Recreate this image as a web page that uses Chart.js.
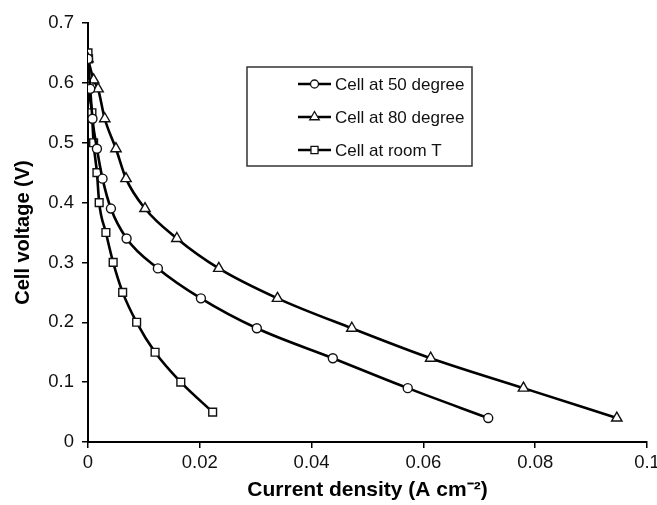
<!DOCTYPE html>
<html>
<head>
<meta charset="utf-8">
<script src="https://cdn.jsdelivr.net/npm/chart.js@4/dist/chart.umd.min.js"></script>
<style>
  html, body { margin: 0; padding: 0; background: #fff; }
  #wrap { width: 657px; height: 505px; position: relative; }
</style>
</head>
<body>
<div id="wrap"><canvas id="grafico-polarizacion"></canvas></div>
<script>
// Series (densidad de corriente en A cm-2, voltaje en V)
const room_x = [0, 0.0001, 0.0002, 0.0007, 0.001, 0.0016, 0.002, 0.0032, 0.0045, 0.0062, 0.0087, 0.012, 0.0166, 0.0223];
const room_y = [0.65, 0.64, 0.60, 0.55, 0.50, 0.45, 0.40, 0.35, 0.30, 0.25, 0.20, 0.15, 0.10, 0.05];

const deg50_x = [0, 0.0004, 0.0008, 0.0016, 0.0026, 0.0041, 0.0069, 0.0125, 0.0202, 0.0302, 0.0438, 0.0572, 0.0716];
const deg50_y = [0.64, 0.59, 0.54, 0.49, 0.44, 0.39, 0.34, 0.29, 0.24, 0.19, 0.14, 0.09, 0.04];

const deg80_x = [0, 0.001, 0.0018, 0.003, 0.005, 0.0068, 0.0102, 0.0159, 0.0234, 0.0339, 0.0472, 0.0613, 0.0779, 0.0946];
const deg80_y = [0.64, 0.605, 0.59, 0.54, 0.49, 0.44, 0.39, 0.34, 0.29, 0.24, 0.19, 0.14, 0.09, 0.04];

const series_labels = ['Cell at 50 degree', 'Cell at 80 degree', 'Cell at room T'];
const series_markers = ['circle', 'triangle', 'rect'];

const x_ticks = [0, 0.02, 0.04, 0.06, 0.08, 0.1];
const y_ticks = [0, 0.1, 0.2, 0.3, 0.4, 0.5, 0.6, 0.7];

const FUENTE = '"Liberation Sans", Arial, sans-serif';

function puntos(xs, ys) {
  return xs.map((x, i) => ({ x: x, y: ys[i] }));
}

function formatear(v) {
  return String(Number(v.toFixed(2)));
}

function radioMarcador(marker) {
  if (marker === 'triangle') return 6;
  if (marker === 'rect') return 5.5;
  return 4.5;
}

function serie(label, marker, xs, ys) {
  return {
    label: label,
    data: puntos(xs, ys),
    borderColor: '#000',
    backgroundColor: '#fff',
    borderWidth: 2.6,
    tension: 0.4,
    cubicInterpolationMode: 'monotone',
    pointStyle: marker,
    pointRadius: radioMarcador(marker),
    pointBorderWidth: 1.4,
    pointBorderColor: '#111',
    pointBackgroundColor: '#fff'
  };
}

// Leyenda dibujada dentro del área del gráfico
const leyendaInterna = {
  id: 'leyendaInterna',
  afterDraw(chart) {
    const ctx = chart.ctx;
    ctx.save();
    ctx.strokeStyle = '#333';
    ctx.lineWidth = 1.5;
    ctx.strokeRect(247, 67, 225, 99);
    const filas = [84, 117, 150];
    series_labels.forEach((texto, i) => {
      const y = filas[i];
      ctx.strokeStyle = '#000';
      ctx.lineWidth = 2.4;
      ctx.beginPath();
      ctx.moveTo(298, y);
      ctx.lineTo(331, y);
      ctx.stroke();
      ctx.fillStyle = '#fff';
      ctx.strokeStyle = '#111';
      ctx.lineWidth = 1.3;
      Chart.helpers.drawPoint(ctx, { pointStyle: series_markers[i], radius: radioMarcador(series_markers[i]) - 0.5, borderWidth: 1.3 }, 314.5, y);
      ctx.fillStyle = '#111';
      ctx.font = '17px ' + FUENTE;
      ctx.textBaseline = 'middle';
      ctx.textAlign = 'left';
      ctx.fillText(texto, 335, y + 1);
    });
    ctx.restore();
  }
};

const canvas = document.getElementById('grafico-polarizacion');
new Chart(canvas, {
  type: 'line',
  data: {
    datasets: [
      serie(series_labels[0], series_markers[0], deg50_x, deg50_y),
      serie(series_labels[1], series_markers[1], deg80_x, deg80_y),
      serie(series_labels[2], series_markers[2], room_x, room_y)
    ]
  },
  options: {
    responsive: true,
    maintainAspectRatio: false,
    animation: false,
    layout: { padding: { top: 23, right: 0, left: 0, bottom: 0 } },
    plugins: {
      legend: { display: false },
      tooltip: { enabled: false }
    },
    scales: {
      x: {
        type: 'linear',
        min: 0,
        max: 0.1,
        afterFit(scale) {
          scale.height = 63;
          scale.paddingRight = 10;
        },
        afterBuildTicks(scale) { scale.ticks = x_ticks.map(v => ({ value: v })); },
        grid: { drawOnChartArea: false, drawTicks: true, tickLength: 6, color: '#000', lineWidth: 1.5 },
        border: { display: true, color: '#000', width: 2 },
        ticks: {
          color: '#111',
          padding: 4,
          maxRotation: 0,
          font: { family: FUENTE, size: 18.5 },
          callback: v => formatear(v)
        },
        title: {
          display: true,
          text: 'Current density (A cm\u207B\u00B2)',
          color: '#000',
          padding: { top: 4, bottom: 2 },
          font: { family: FUENTE, size: 21, weight: 'bold' }
        }
      },
      y: {
        type: 'linear',
        min: 0,
        max: 0.7,
        afterFit(scale) { scale.width = 88; },
        afterBuildTicks(scale) { scale.ticks = y_ticks.map(v => ({ value: v })); },
        grid: { drawOnChartArea: false, drawTicks: true, tickLength: 6, color: '#000', lineWidth: 1.5 },
        border: { display: true, color: '#000', width: 2 },
        ticks: {
          color: '#111',
          padding: 8,
          font: { family: FUENTE, size: 18.5 },
          callback: v => formatear(v)
        },
        title: {
          display: true,
          text: 'Cell voltage (V)',
          color: '#000',
          padding: { top: 11, bottom: 0 },
          font: { family: FUENTE, size: 20, weight: 'bold' }
        }
      }
    }
  },
  plugins: [leyendaInterna]
});
</script>
</body>
</html>
